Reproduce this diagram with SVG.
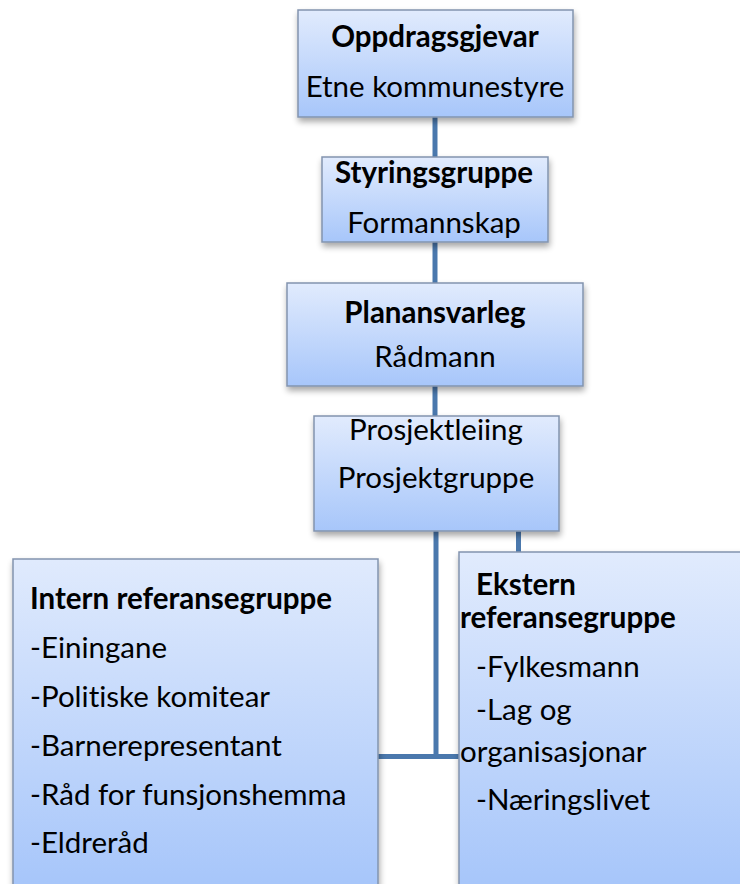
<svg xmlns="http://www.w3.org/2000/svg" width="740" height="884" viewBox="0 0 740 884">
<style>
.box{fill:url(#g);stroke:#8294ae;stroke-width:1.5;filter:url(#sh)}
.t{font-family:Lato,"Liberation Sans",sans-serif;font-size:29.5px;fill:#000;font-variant-ligatures:none}
.b{font-weight:bold}
.c{text-anchor:middle}
.ln{stroke:#4a78ad;stroke-width:5;fill:none}
</style>
<defs>
<linearGradient id="g" x1="0" y1="0" x2="0" y2="1">
<stop offset="0" stop-color="#e1ebfd"/>
<stop offset="1" stop-color="#a7c6fa"/>
</linearGradient>
<linearGradient id="g2" gradientUnits="userSpaceOnUse" x1="0" y1="552" x2="0" y2="884">
<stop offset="0" stop-color="#e1ebfd"/>
<stop offset="1" stop-color="#a7c6fa"/>
</linearGradient>
<filter id="sh" x="-10%" y="-10%" width="120%" height="130%">
<feGaussianBlur in="SourceAlpha" stdDeviation="3"/>
<feOffset dx="1" dy="4" result="o"/>
<feComponentTransfer><feFuncA type="linear" slope="0.35"/></feComponentTransfer>
<feMerge><feMergeNode/><feMergeNode in="SourceGraphic"/></feMerge>
</filter>
</defs>
<g id="connectors">
<line class="ln" x1="435" y1="117" x2="435" y2="157"/>
<line class="ln" x1="435" y1="242" x2="435" y2="283"/>
<line class="ln" x1="435" y1="386" x2="435" y2="416"/>
<path class="ln" d="M436 531 V756.5 H377"/>
<line class="ln" x1="434" y1="756.5" x2="459" y2="756.5"/>
<line class="ln" x1="518.5" y1="531" x2="518.5" y2="552"/>
</g>
<g id="oppdragsgjevar">
<rect class="box" x="298" y="10" width="275" height="107"/>
<text class="t b c" x="435" y="47">Oppdragsgjevar</text>
<text class="t c" x="435" y="97">Etne kommunestyre</text>
</g>
<g id="styringsgruppe">
<rect class="box" x="322" y="157" width="226" height="85"/>
<text class="t b c" x="434" y="183">Styringsgruppe</text>
<text class="t c" x="434" y="233">Formannskap</text>
</g>
<g id="planansvarleg">
<rect class="box" x="287" y="283" width="296" height="103"/>
<text class="t b c" x="435" y="323">Planansvarleg</text>
<text class="t c" x="435" y="367">Rådmann</text>
</g>
<g id="prosjektleiing">
<rect class="box" x="314" y="416" width="245" height="115"/>
<text class="t c" x="436" y="440">Prosjektleiing</text>
<text class="t c" x="436" y="488">Prosjektgruppe</text>
</g>
<g id="intern">
<rect class="box" x="13" y="559" width="365" height="340" style="fill:url(#g2)"/>
<text class="t b" x="30" y="609">Intern referansegruppe</text>
<text class="t" x="30" y="658">-Einingane</text>
<text class="t" x="30" y="707">-Politiske komitear</text>
<text class="t" x="30" y="756">-Barnerepresentant</text>
<text class="t" x="30" y="805">-Råd for funsjonshemma</text>
<text class="t" x="30" y="853">-Eldreråd</text>
</g>
<g id="ekstern">
<rect class="box" x="459" y="552" width="300" height="350" style="fill:url(#g2)"/>
<text class="t b" x="476" y="595">Ekstern</text>
<text class="t b" x="460" y="628">referansegruppe</text>
<text class="t" x="476" y="677">-Fylkesmann</text>
<text class="t" x="476" y="720">-Lag og</text>
<text class="t" x="460" y="762">organisasjonar</text>
<text class="t" x="476" y="810">-Næringslivet</text>
</g>
</svg>
